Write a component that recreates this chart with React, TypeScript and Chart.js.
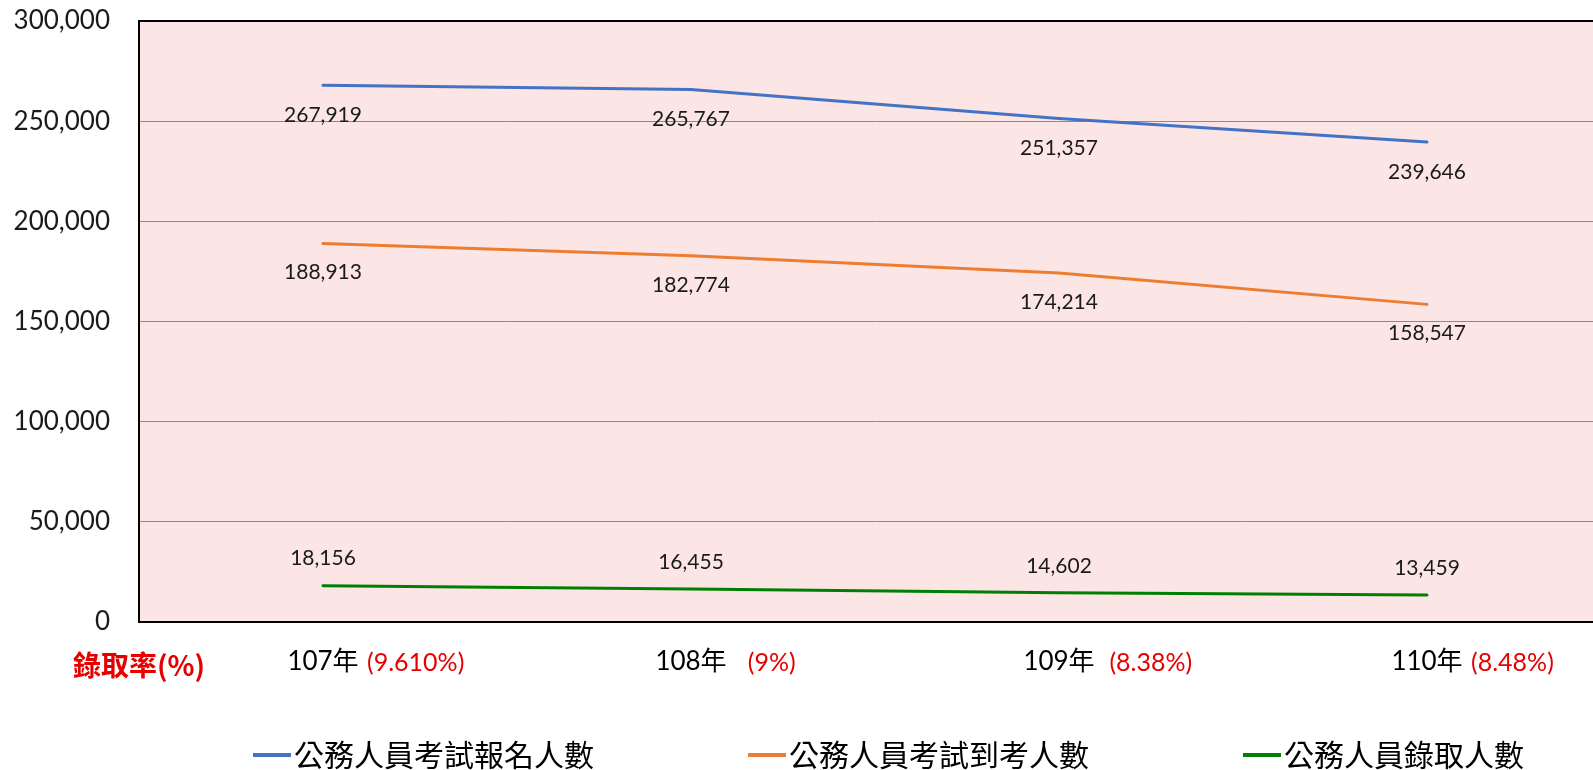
import { useEffect, useRef } from "react";
import { Chart, registerables } from "chart.js";

Chart.register(...registerables);

// ---- data ----
const categories = ["107年", "108年", "109年", "110年"];
const rateLabels = [" (9.610%)", "   (9%)", "  (8.38%)", " (8.48%)"];
const rateTitle = "錄取率(%)";
const seriesNames = ["公務人員考試報名人數", "公務人員考試到考人數", "公務人員錄取人數"];
const registeredCounts = [267919, 265767, 251357, 239646];
const attendedCounts = [188913, 182774, 174214, 158547];
const admittedCounts = [18156, 16455, 14602, 13459];
const yMin = 0;
const yMax = 300000;
const yStep = 50000;

// ---- styles ----
const COLORS = ["#4472C4", "#ED7D31", "#008000"];
const LABEL_OFFSETS = [30, 29, -27];
const PINK = "rgb(251,229,229)";
const RED = "#e60000";
const TEXT = "#1a1a1a";
const LATIN = "Lato, 'Noto Sans CJK TC', sans-serif";
const CJK = "'Noto Sans CJK TC', Lato, sans-serif";

const fmt = (v: number) => v.toLocaleString("en-US");

const bgPlugin = {
  id: "plotBg",
  beforeDraw(chart: any) {
    const { ctx, chartArea: a } = chart;
    ctx.save();
    ctx.fillStyle = PINK;
    ctx.fillRect(a.left, a.top, a.right - a.left, a.bottom - a.top);
    ctx.restore();
  },
};

const valueLabelPlugin = {
  id: "valueLabels",
  afterDatasetsDraw(chart: any) {
    const { ctx } = chart;
    ctx.save();
    ctx.font = `21px ${LATIN}`;
    ctx.fillStyle = TEXT;
    ctx.textAlign = "center";
    ctx.textBaseline = "middle";
    chart.data.datasets.forEach((ds: any, di: number) => {
      const meta = chart.getDatasetMeta(di);
      meta.data.forEach((pt: any, i: number) => {
        ctx.fillText(fmt(ds.data[i] as number), pt.x, pt.y + LABEL_OFFSETS[di]);
      });
    });
    ctx.restore();
  },
};

const xLabelPlugin = {
  id: "xLabels",
  afterDraw(chart: any) {
    const { ctx, chartArea: a } = chart;
    const xs = chart.scales.x;
    const y0 = a.bottom + 40;
    ctx.save();
    ctx.textBaseline = "middle";
    categories.forEach((c, i) => {
      const px = xs.getPixelForValue(i);
      ctx.font = `26px ${LATIN}`;
      ctx.fillStyle = "#000";
      ctx.textAlign = "center";
      ctx.fillText(c, px, y0);
      const w = ctx.measureText(c).width;
      ctx.font = `25px ${LATIN}`;
      ctx.fillStyle = RED;
      ctx.textAlign = "left";
      ctx.fillText(rateLabels[i], px + w / 2 + 2, y0 + 1);
    });
    ctx.font = `bold 28px ${CJK}`;
    ctx.fillStyle = RED;
    ctx.textAlign = "center";
    ctx.fillText(rateTitle, a.left, y0 + 3);
    ctx.restore();
  },
};

const legendPlugin = {
  id: "customLegend",
  afterDraw(chart: any) {
    const { ctx, chartArea: a } = chart;
    ctx.save();
    ctx.font = `30px ${CJK}`;
    ctx.textBaseline = "middle";
    ctx.textAlign = "left";
    const y = 755;
    let x = a.left + 114;
    chart.data.datasets.forEach((ds: any) => {
      ctx.strokeStyle = ds.borderColor;
      ctx.lineWidth = 4;
      ctx.beginPath();
      ctx.moveTo(x, y);
      ctx.lineTo(x + 38, y);
      ctx.stroke();
      ctx.fillStyle = "#000";
      ctx.fillText(ds.label, x + 41, y);
      x += 41 + ctx.measureText(ds.label).width + 154;
    });
    ctx.restore();
  },
};

const zeroPadding = (s: any) => {
  s.paddingTop = 0;
  s.paddingBottom = 0;
  s.paddingLeft = 0;
  s.paddingRight = 0;
};

export default function App() {
  const ref = useRef<HTMLCanvasElement>(null);
  useEffect(() => {
    if (!ref.current) return;
    const series = [registeredCounts, attendedCounts, admittedCounts];
    const chart = new Chart(ref.current, {
      type: "line",
      data: {
        labels: categories,
        datasets: series.map((d, i) => ({
          label: seriesNames[i],
          data: d,
          borderColor: COLORS[i],
          backgroundColor: COLORS[i],
          borderWidth: 3,
          pointRadius: 0,
          tension: 0,
          borderCapStyle: "round",
          borderJoinStyle: "round",
          fill: false,
        })),
      },
      options: {
        animation: false,
        responsive: false,
        devicePixelRatio: 1,
        layout: { autoPadding: false, padding: { left: 0, top: 21, right: 0, bottom: 148 } },
        plugins: { legend: { display: false }, tooltip: { enabled: false } },
        scales: {
          x: {
            type: "category",
            offset: true,
            ticks: { display: false },
            grid: { display: false },
            border: { display: false },
            afterFit: (s: any) => {
              s.height = 0;
              zeroPadding(s);
            },
          },
          y: {
            min: yMin,
            max: yMax,
            ticks: {
              stepSize: yStep,
              padding: 29,
              color: TEXT,
              font: { family: LATIN, size: 26 },
              callback: (v: any) => fmt(Number(v)),
            },
            grid: {
              drawTicks: false,
              color: (c: any) =>
                c.tick && (c.tick.value === yMin || c.tick.value === yMax) ? "#000" : "#8a8a8a",
              lineWidth: (c: any) =>
                c.tick && (c.tick.value === yMin || c.tick.value === yMax) ? 2 : 1,
            },
            border: { display: true, color: "#000", width: 2 },
            afterFit: (s: any) => {
              s.width = 139;
              zeroPadding(s);
            },
          },
        },
      },
      plugins: [bgPlugin, valueLabelPlugin, xLabelPlugin, legendPlugin],
    });
    return () => chart.destroy();
  }, []);
  return (
    <div
      style={{
        position: "fixed",
        left: 0,
        top: 0,
        width: 1593,
        height: 770,
        overflow: "hidden",
        background: "#fff",
      }}
    >
      <canvas ref={ref} width={1611} height={770} style={{ display: "block" }} />
    </div>
  );
}
